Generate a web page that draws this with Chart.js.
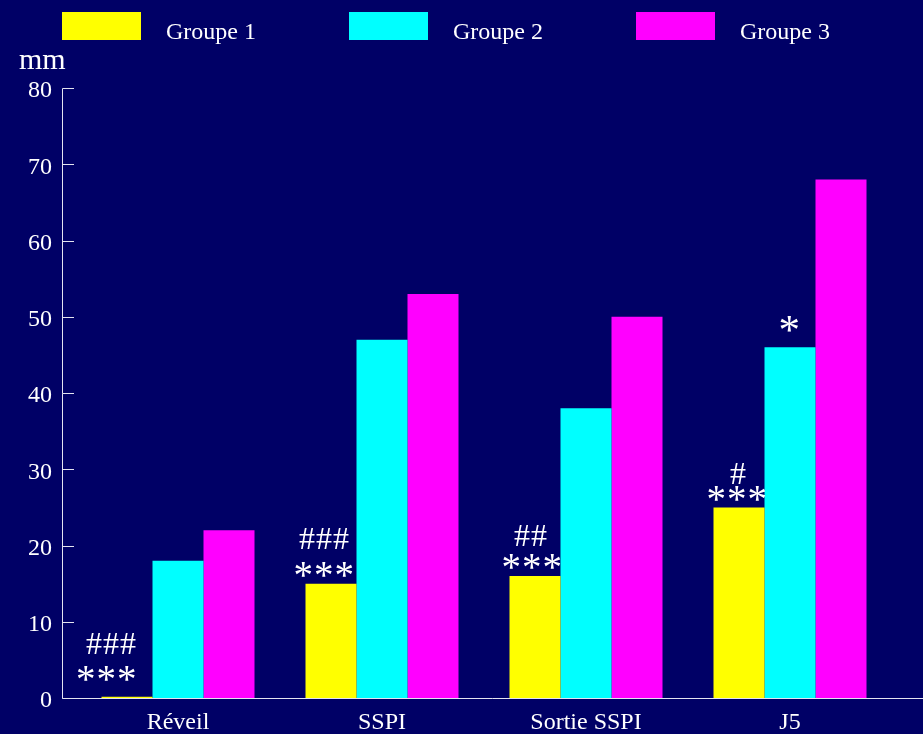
<!DOCTYPE html>
<html>
<head>
<meta charset="utf-8">
<title>Groupes</title>
<script src="https://cdn.jsdelivr.net/npm/chart.js@4/dist/chart.umd.min.js"></script>
<style>
  html, body { margin: 0; padding: 0; background: #000066; }
  canvas { display: block; }
</style>
</head>
<body>
<canvas id="chart" width="923" height="734"></canvas>
<script>
// ---- data ----
const categories = ['Réveil', 'SSPI', 'Sortie SSPI', 'J5'];
const seriesNames = ['Groupe 1', 'Groupe 2', 'Groupe 3'];
const groupe1 = [0.15, 15, 16, 25];
const groupe2 = [18, 47, 38, 46];
const groupe3 = [22, 53, 50, 68];
const yTickValues = [0, 10, 20, 30, 40, 50, 60, 70, 80];
const unitLabel = 'mm';
// significance marks written above the bars
const hashGroupe1 = ['###', '###', '##', '#'];
const starGroupe1 = ['***', '***', '***', '***'];
const starGroupe2 = ['', '', '', '*'];

// ---- styling ----
const SERIF = '"Liberation Serif", "Times New Roman", Times, serif';
const BG = '#000066';
const INK = '#ffffff';
const AXIS = '#e4e4f0';
const COLORS = ['#ffff00', '#00ffff', '#ff00ff'];

// offsets [dx from bar centre, height of glyph centre above bar top]
const markLayout = {
  star1: [[-21, 23], [-7.5, 14], [-3.5, 14.5], [-2.5, 14]],
  hash1: [[-16, 53], [-7, 45], [-4.5, 41], [-1, 34]],
  star2: [[0, 0], [0, 0], [0, 0], [-0.5, 23]]
};

function drawGlyphRow(ctx, text, cx, cy, font, pitch) {
  ctx.font = font;
  ctx.textAlign = 'left';
  ctx.textBaseline = 'alphabetic';
  const n = text.length;
  for (let i = 0; i < n; i++) {
    const ch = text[i];
    const m = ctx.measureText(ch);
    const gx = cx + (i - (n - 1) / 2) * pitch;
    const inkDx = (m.actualBoundingBoxRight - m.actualBoundingBoxLeft) / 2;
    const inkDy = (m.actualBoundingBoxDescent - m.actualBoundingBoxAscent) / 2;
    ctx.fillText(ch, gx - inkDx, cy - inkDy);
  }
}

const backdrop = {
  id: 'backdrop',
  beforeDraw(chart) {
    const { ctx, width, height } = chart;
    ctx.save();
    ctx.fillStyle = BG;
    ctx.fillRect(0, 0, width, height);
    ctx.restore();
  }
};

// axis lines with inward ticks, unit label and legend row
const frame = {
  id: 'frame',
  beforeDatasetsDraw(chart) {
    const { ctx } = chart;
    const y = chart.scales.y;
    const axisX = 62.5;
    const yTop = Math.round(y.getPixelForValue(yTickValues[yTickValues.length - 1])) + 0.5;
    const yBase = Math.round(y.getPixelForValue(0)) + 0.5;
    ctx.save();
    ctx.strokeStyle = AXIS;
    ctx.lineWidth = 1;
    ctx.beginPath();
    ctx.moveTo(axisX, yTop);
    ctx.lineTo(axisX, yBase);
    ctx.lineTo(chart.width, yBase);
    yTickValues.forEach(v => {
      const py = Math.round(y.getPixelForValue(v)) + 0.5;
      ctx.moveTo(axisX, py);
      ctx.lineTo(axisX + 11.5, py);
    });
    ctx.stroke();

    ctx.fillStyle = INK;
    ctx.font = '30px ' + SERIF;
    ctx.textAlign = 'left';
    ctx.textBaseline = 'alphabetic';
    ctx.fillText(unitLabel, 19, 69);

    chart.data.datasets.forEach((ds, i) => {
      const bx = 62 + i * 287;
      ctx.fillStyle = ds.backgroundColor;
      ctx.fillRect(bx, 12, 79, 28);
      ctx.fillStyle = INK;
      ctx.font = '24px ' + SERIF;
      ctx.fillText(ds.label, bx + 104, 39);
    });
    ctx.restore();
  },
  afterDatasetsDraw(chart) {
    const { ctx } = chart;
    const m1 = chart.getDatasetMeta(0).data;
    const m2 = chart.getDatasetMeta(1).data;
    ctx.save();
    ctx.fillStyle = INK;
    categories.forEach((c, i) => {
      const b1 = m1[i];
      if (starGroupe1[i]) {
        const [dx, dy] = markLayout.star1[i];
        drawGlyphRow(ctx, starGroupe1[i], b1.x + dx, b1.y - dy, '39px ' + SERIF, 20.5);
      }
      if (hashGroupe1[i]) {
        const [dx, dy] = markLayout.hash1[i];
        drawGlyphRow(ctx, hashGroupe1[i], b1.x + dx, b1.y - dy, '32px ' + SERIF, 17);
      }
      const b2 = m2[i];
      if (starGroupe2[i]) {
        const [dx, dy] = markLayout.star2[i];
        drawGlyphRow(ctx, starGroupe2[i], b2.x + dx, b2.y - dy, '43px ' + SERIF, 20.5);
      }
    });
    ctx.restore();
  }
};

const series = [groupe1, groupe2, groupe3];

new Chart(document.getElementById('chart'), {
  type: 'bar',
  data: {
    labels: categories,
    datasets: seriesNames.map((name, i) => ({
      label: name,
      data: series[i],
      backgroundColor: COLORS[i],
      borderWidth: 0,
      categoryPercentage: 0.75,
      barPercentage: 1.0
    }))
  },
  options: {
    responsive: false,
    animation: false,
    devicePixelRatio: 1,
    layout: { padding: { left: 0, right: 31, top: 88, bottom: 0 } },
    plugins: {
      legend: { display: false },
      tooltip: { enabled: false }
    },
    scales: {
      x: {
        grid: { display: false, drawTicks: false },
        border: { display: false },
        ticks: {
          color: INK,
          font: { family: SERIF, size: 24 },
          padding: 10,
          maxRotation: 0,
          autoSkip: false
        },
        afterFit(scale) { scale.height = 36; }
      },
      y: {
        min: 0,
        max: 80,
        grid: { display: false, drawTicks: false },
        border: { display: false },
        ticks: {
          color: INK,
          font: { family: SERIF, size: 24 },
          padding: 24,
          labelOffset: 3
        },
        afterBuildTicks(scale) { scale.ticks = yTickValues.map(v => ({ value: v })); },
        afterFit(scale) {
          scale.width = 76;
          scale.paddingTop = 0;
          scale.paddingBottom = 0;
        }
      }
    }
  },
  plugins: [backdrop, frame]
});
</script>
</body>
</html>
